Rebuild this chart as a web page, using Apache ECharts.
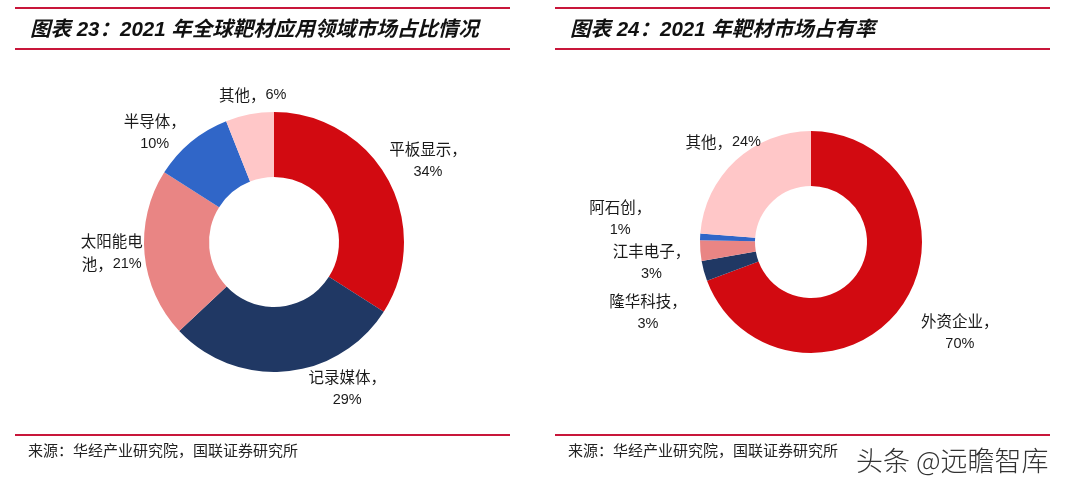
<!DOCTYPE html>
<html><head><meta charset="utf-8">
<script src="https://cdn.jsdelivr.net/npm/echarts@6/dist/echarts.min.js"></script>
<style>html,body{margin:0;padding:0;background:#fff}#c{width:1080px;height:490px}</style>
</head><body><div id="c"></div>
<script>
// ---- data ----
const appNames = ['平板显示', '记录媒体', '太阳能电池', '半导体', '其他'];
const appValues = [34, 29, 21, 10, 6];
const shareNames = ['外资企业', '隆华科技', '江丰电子', '阿石创', '其他'];
const shareValues = [70, 3, 3, 1, 24];
const titleLeft = '图表 23：2021 年全球靶材应用领域市场占比情况';
const titleRight = '图表 24：2021 年靶材市场占有率';
const sourceText = '来源：华经产业研究院，国联证券研究所';
const watermark = '头条 @远瞻智库';

// ---- styles / layout ----
const palette = ['#D20A11', '#203864', '#E98584', '#3066C8', '#FFC7C8'];
const lineColor = '#C8163A';
const textColor = '#1a1a1a';
const cjk = 'Noto Sans CJK SC';
const latin = 'Liberation Sans';
const mixed = '"Liberation Sans", "Noto Sans CJK SC", sans-serif';
const CW = 15;      // nominal CJK char width used for wrapping
const DW = 10;      // nominal digit / % width used for wrapping
const pieLayouts = [
  { cx: 274, cy: 242, r0: 65, r: 130, gap: 32, widths: [78, 78, 62, 78, 78],
    nudge: [[12, -3], [58, -15], [-1, -5], [-16, 15], [9, 12]] },
  { cx: 811, cy: 242, r0: 56, r: 111, gap: 30, widths: [78, 78, 78, 78, 78],
    nudge: [[33, 10], [-27, 34], [-19, 10], [-50, -17], [8, 4]] }
];

function makeLabelLayout(values, p) {
  const total = values.reduce((a, b) => a + b, 0);
  const mids = [];
  let acc = 0;
  values.forEach(v => { mids.push((acc + v / 2) / total * 2 * Math.PI); acc += v; });
  return function (params) {
    const i = params.dataIndex, a = mids[i], d = p.r + p.gap;
    return {
      x: p.cx + d * Math.sin(a) + p.nudge[i][0],
      y: p.cy - d * Math.cos(a) + p.nudge[i][1],
      align: 'center', verticalAlign: 'middle'
    };
  };
}

function makeFormatter(p) {
  return function (params) {
    const W = p.widths[params.dataIndex];
    const head = params.name + '，';
    const num = params.value + '%';
    const numW = num.length * DW;
    if (head.length * CW + numW <= W) return '{a|' + head + '}{b|' + num + '}';
    if (head.length * CW <= W) return '{a|' + head + '}\n{b|' + num + '}';
    const k = Math.floor(W / CW);
    return '{a|' + head.slice(0, k) + '}\n{a|' + head.slice(k) + '}{b|' + num + '}';
  };
}

function makeSeries(names, values, p) {
  return {
    type: 'pie',
    center: [p.cx, p.cy],
    radius: [p.r0, p.r],
    startAngle: 90,
    clockwise: true,
    avoidLabelOverlap: false,
    silent: true,
    animation: false,
    itemStyle: { borderWidth: 0 },
    labelLine: { show: false },
    label: {
      show: true,
      position: 'outside',
      formatter: makeFormatter(p),
      color: textColor,
      lineHeight: 23,
      rich: {
        a: { fontFamily: cjk, fontSize: 15.5, color: textColor, lineHeight: 23 },
        b: { fontFamily: latin, fontSize: 14.5, color: textColor, lineHeight: 23 }
      }
    },
    labelLayout: makeLabelLayout(values, p),
    data: names.map((n, i) => ({
      name: n, value: values[i],
      itemStyle: { color: palette[i] }
    }))
  };
}

function hline(x1, x2, y) {
  return { type: 'line', shape: { x1: x1, y1: y, x2: x2, y2: y },
    style: { stroke: lineColor, lineWidth: 2 }, silent: true };
}
function txt(x, y, text, extra) {
  return { type: 'text', x: x, y: y, silent: true,
    style: Object.assign({ text: text, fill: textColor, verticalAlign: 'middle', fontFamily: mixed }, extra) };
}

const chart = echarts.init(document.getElementById('c'), null, { renderer: 'canvas' });
chart.setOption({
  backgroundColor: '#fff',
  animation: false,
  graphic: [
    hline(15, 510, 8), hline(15, 510, 49), hline(15, 510, 435),
    hline(555, 1050, 8), hline(555, 1050, 49), hline(555, 1050, 435),
    txt(30, 30, titleLeft, { fontSize: 20.5, fontWeight: 'bold', fontStyle: 'italic', fill: '#111' }),
    txt(570, 30, titleRight, { fontSize: 20.5, fontWeight: 'bold', fontStyle: 'italic', fill: '#111' }),
    txt(28, 452, sourceText, { fontSize: 15, fill: '#222' }),
    txt(568, 452, sourceText, { fontSize: 15, fill: '#222' }),
    txt(856, 461, watermark, { fontSize: 27, fontWeight: 300, fill: '#333', fontFamily: cjk })
  ],
  series: [
    makeSeries(appNames, appValues, pieLayouts[0]),
    makeSeries(shareNames, shareValues, pieLayouts[1])
  ]
});
</script>
</body></html>
